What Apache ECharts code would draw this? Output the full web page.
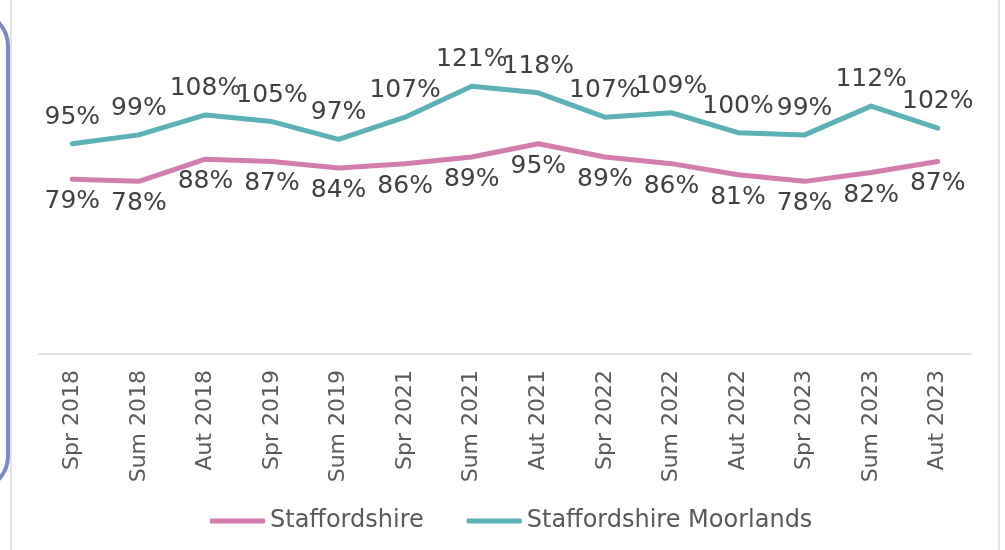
<!DOCTYPE html>
<html>
<head>
<meta charset="utf-8">
<script src="https://cdn.jsdelivr.net/npm/echarts@6/dist/echarts.min.js"></script>
<style>
  html, body { margin: 0; padding: 0; background: #fff; }
  #chart { width: 1005px; height: 550px; }
</style>
</head>
<body>
<div id="chart"></div>
<script>
// seasons along the x axis
const categories = ['Spr 2018', 'Sum 2018', 'Aut 2018', 'Spr 2019', 'Sum 2019', 'Spr 2021', 'Sum 2021',
  'Aut 2021', 'Spr 2022', 'Sum 2022', 'Aut 2022', 'Spr 2023', 'Sum 2023', 'Aut 2023']
const staffordshire = [79, 78, 88, 87, 84, 86, 89, 95, 89, 86, 81, 78, 82, 87]
const moorlands = [95, 99, 108, 105, 97, 107, 121, 118, 107, 109, 100, 99, 112, 102]

const pink = '#d37cae'
const teal = '#5bb1b5'
const font = 'DejaVu Sans'

const chart = echarts.init(document.getElementById('chart'))

function lineSeries(name, data, color, pos, dist) {
  return {
    name: name,
    type: 'line',
    data: data,
    symbol: 'circle',
    symbolSize: 0.1,
    itemStyle: { color: color },
    lineStyle: { color: color, width: 5, cap: 'round', join: 'round' },
    label: {
      show: true,
      position: pos,
      distance: dist,
      formatter: p => p.value + '%',
      fontFamily: font,
      fontSize: 25,
      color: '#404040'
    },
    emphasis: { disabled: true },
    animation: false
  }
}

chart.setOption({
  animation: false,
  grid: { left: 39, right: 34, top: 22, bottom: 196 },
  xAxis: {
    type: 'category',
    data: categories,
    axisLine: { lineStyle: { color: '#d9d9d9', width: 1.5 } },
    axisTick: { show: false },
    axisLabel: {
      rotate: 90,
      margin: 16,
      fontFamily: font,
      fontSize: 22,
      color: '#595959'
    }
  },
  yAxis: {
    type: 'value',
    min: 0,
    max: 150,
    show: false,
    splitLine: { show: false }
  },
  legend: {
    left: 205,
    top: 504,
    itemWidth: 55,
    itemHeight: 5,
    itemGap: 43,
    icon: 'roundRect',
    textStyle: { fontFamily: font, fontSize: 24, color: '#595959' },
    data: ['Staffordshire', 'Staffordshire Moorlands']
  },
  graphic: [
    { type: 'line', shape: { x1: 11, y1: 0, x2: 11, y2: 550 }, style: { stroke: '#d9d9d9', lineWidth: 1.5 } },
    { type: 'line', shape: { x1: 999, y1: 0, x2: 999, y2: 550 }, style: { stroke: '#d9d9d9', lineWidth: 1.5 } },
    {
      type: 'rect',
      shape: { x: -60, y: 12, width: 68, height: 478, r: 40 },
      style: { fill: 'none', stroke: '#7a8bc1', lineWidth: 4 }
    }
  ],
  series: [
    lineSeries('Staffordshire', staffordshire, pink, 'bottom', 10),
    lineSeries('Staffordshire Moorlands', moorlands, teal, 'top', 14)
  ]
})
</script>
</body>
</html>
